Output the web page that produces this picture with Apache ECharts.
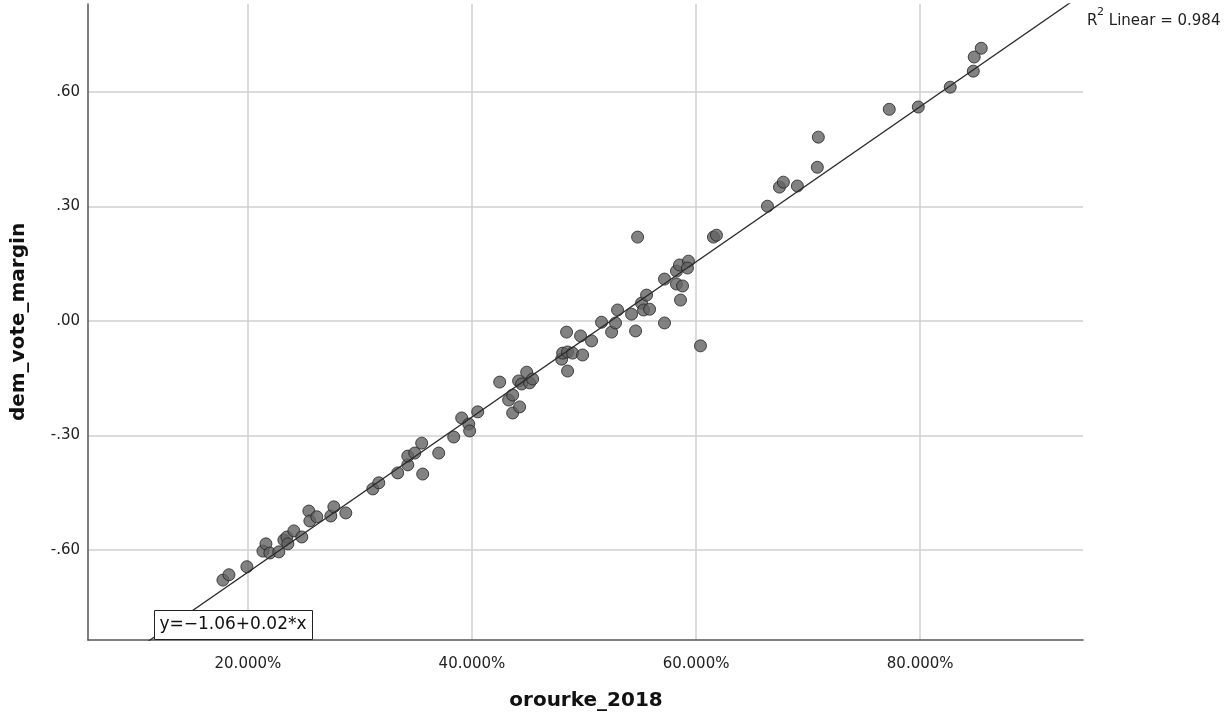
<!DOCTYPE html>
<html>
<head>
<meta charset="utf-8">
<title>dem_vote_margin vs orourke_2018</title>
<script src="https://cdn.jsdelivr.net/npm/echarts@6/dist/echarts.min.js"></script>
<style>
  html, body { margin: 0; padding: 0; background: #fff; }
  #chart { width: 1225px; height: 716px; }
</style>
</head>
<body>
<div id="chart"></div>
<script>
// O'Rourke 2018 vote share (%) per district
const orourke2018 = [
  17.77, 18.31, 19.91, 21.34, 21.61, 21.96, 22.76, 23.21, 23.48, 23.57,
  24.10, 24.81, 25.44, 25.53, 26.15, 27.40, 27.67, 28.74, 31.15, 31.68,
  33.37, 34.27, 34.27, 34.89, 35.51, 35.60, 37.03, 38.37, 39.08, 39.71,
  39.79, 40.51, 42.47, 43.27, 43.63, 43.63, 44.25, 44.16, 44.88, 44.43,
  45.14, 45.41, 48.00, 48.09, 48.53, 48.98, 49.87, 48.53, 48.44, 49.69,
  50.67, 51.56, 52.46, 52.81, 52.99, 54.24, 54.60, 55.13, 55.31, 55.85,
  55.58, 57.18, 54.78, 57.18, 58.25, 58.79, 58.25, 58.52, 59.32, 59.23,
  58.61, 60.39, 61.55, 61.82, 66.37, 67.44, 67.79, 69.04, 70.82, 70.91,
  77.24, 79.83, 82.68, 84.74, 84.82, 85.45
];

// Democratic vote margin for the same districts
const demVoteMargin = [
  -0.679, -0.665, -0.644, -0.603, -0.584, -0.608, -0.605, -0.574, -0.566, -0.584,
  -0.550, -0.566, -0.498, -0.524, -0.513, -0.511, -0.487, -0.503, -0.440, -0.424,
  -0.398, -0.377, -0.354, -0.346, -0.320, -0.401, -0.346, -0.304, -0.254, -0.270,
  -0.288, -0.238, -0.160, -0.207, -0.194, -0.241, -0.225, -0.157, -0.134, -0.165,
  -0.162, -0.152, -0.100, -0.084, -0.081, -0.084, -0.089, -0.131, -0.029, -0.039,
  -0.052, -0.003, -0.029, -0.005, 0.029, 0.018, -0.026, 0.047, 0.029, 0.031,
  0.068, -0.005, 0.220, 0.110, 0.097, 0.092, 0.131, 0.147, 0.157, 0.139,
  0.055, -0.065, 0.220, 0.225, 0.301, 0.351, 0.364, 0.354, 0.403, 0.482,
  0.555, 0.561, 0.613, 0.655, 0.692, 0.715
];

// Tick values and axis extents
const xTicks = [20, 40, 60, 80];
const yTicks = [-0.6, -0.3, 0, 0.3, 0.6];
const xRange = [5.73, 94.53];
const yRange = [-0.836, 0.831];

// Fit annotations
const equationText = 'y=\u22121.06+0.02*x';
const r2Text = ' Linear = 0.984';

// Ordinary least squares fit of margin on vote share
function linearFit(xs, ys) {
  const n = xs.length;
  let sx = 0, sy = 0, sxx = 0, sxy = 0;
  for (let i = 0; i < n; i++) {
    sx += xs[i]; sy += ys[i];
    sxx += xs[i] * xs[i]; sxy += xs[i] * ys[i];
  }
  const slope = (n * sxy - sx * sy) / (n * sxx - sx * sx);
  const intercept = (sy - slope * sx) / n;
  return { slope, intercept };
}

const fit = linearFit(orourke2018, demVoteMargin);
const points = orourke2018.map((x, i) => [x, demVoteMargin[i]]);
const fitLine = xRange.map(x => [x, fit.intercept + fit.slope * x]);

const tickFont = { fontFamily: 'DejaVu Sans', fontSize: 15, color: '#222' };

const chart = echarts.init(document.getElementById('chart'), null, { renderer: 'canvas' });

chart.setOption({
  backgroundColor: '#ffffff',
  animation: false,
  grid: { left: 88, right: 142, top: 4, bottom: 76 },
  xAxis: {
    type: 'value',
    min: xRange[0],
    max: xRange[1],
    axisLine: { show: true, onZero: false, lineStyle: { color: '#555', width: 1.5 } },
    axisTick: { show: false, customValues: xTicks },
    axisLabel: {
      customValues: xTicks,
      margin: 17,
      ...tickFont,
      formatter: v => v.toFixed(3) + '%'
    },
    splitLine: { show: true, lineStyle: { color: '#cfcfcf', width: 1.5 } }
  },
  yAxis: {
    type: 'value',
    min: yRange[0],
    max: yRange[1],
    axisLine: { show: true, onZero: false, lineStyle: { color: '#555', width: 1.5 } },
    axisTick: { show: false, customValues: yTicks },
    axisLabel: {
      customValues: yTicks,
      margin: 8,
      ...tickFont,
      formatter: v => {
        const s = Math.abs(v).toFixed(2).replace(/^0/, '');
        return (v < -1e-9 ? '-' : '') + s;
      }
    },
    splitLine: { show: true, lineStyle: { color: '#cfcfcf', width: 1.5 } }
  },
  series: [
    {
      type: 'scatter',
      data: points,
      symbol: 'circle',
      symbolSize: 12,
      itemStyle: { color: '#636363', borderColor: '#222', borderWidth: 1 },
      z: 2
    },
    {
      type: 'line',
      data: fitLine,
      symbol: 'none',
      clip: true,
      lineStyle: { color: '#2b2b2b', width: 1.3 },
      z: 3
    }
  ],
  graphic: [
    // y-axis title
    {
      type: 'text',
      x: 19, y: 322,
      rotation: Math.PI / 2,
      style: {
        text: 'dem_vote_margin',
        font: 'bold 20px "DejaVu Sans"',
        fill: '#111',
        align: 'center',
        verticalAlign: 'middle'
      }
    },
    // x-axis title
    {
      type: 'text',
      x: 586, y: 701,
      style: {
        text: 'orourke_2018',
        font: 'bold 20px "DejaVu Sans"',
        fill: '#111',
        align: 'center',
        verticalAlign: 'middle'
      }
    },
    // R-squared note
    {
      type: 'text',
      x: 1087, y: 21,
      style: { text: 'R', font: '15px "DejaVu Sans"', fill: '#222', verticalAlign: 'middle' }
    },
    {
      type: 'text',
      x: 1097, y: 12,
      style: { text: '2', font: '11px "DejaVu Sans"', fill: '#222', verticalAlign: 'middle' }
    },
    {
      type: 'text',
      x: 1104, y: 21,
      style: { text: r2Text, font: '15px "DejaVu Sans"', fill: '#222', verticalAlign: 'middle' }
    },
    // fit equation box
    {
      type: 'rect',
      z: 10,
      shape: { x: 154.5, y: 610.5, width: 158, height: 29 },
      style: { fill: '#fff', stroke: '#222', lineWidth: 1 }
    },
    {
      type: 'text',
      z: 11,
      x: 233, y: 625,
      style: {
        text: equationText,
        font: '17px "DejaVu Sans"',
        fill: '#111',
        align: 'center',
        verticalAlign: 'middle'
      }
    }
  ]
});
</script>
</body>
</html>
